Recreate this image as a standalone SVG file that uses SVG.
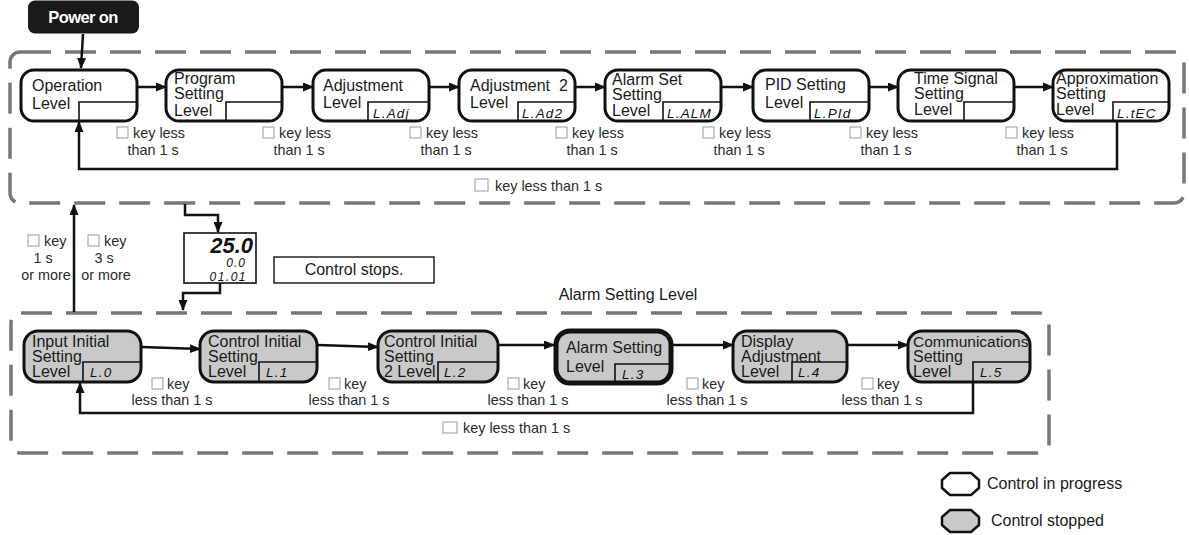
<svg xmlns="http://www.w3.org/2000/svg" width="1189" height="535" viewBox="0 0 1189 535">
<style>
text{font-family:"Liberation Sans",Arial,sans-serif;fill:#1a1a1a}
.n{font-size:16px}
.lb{font-size:14.4px;fill:#2a2a2a}
.lbm{font-size:14.4px;fill:#2a2a2a;text-anchor:middle}
.box{fill:#fff;stroke:#111;stroke-width:3}
.gbox{fill:#c9c9c9;stroke:#111;stroke-width:3}
.thick{stroke-width:5}
.dsp{fill:none;stroke:#111;stroke-width:1.6}
.seg{font-size:13.5px;font-style:italic;letter-spacing:1.2px;fill:#111}
.con{fill:none;stroke:#111;stroke-width:2.5}
.dash{fill:none;stroke:#777;stroke-width:3.5;stroke-dasharray:31 14}
.sq{fill:#fff;stroke:#999;stroke-width:1}
</style>
<defs>
<marker id="ah" markerUnits="userSpaceOnUse" markerWidth="11" markerHeight="9" refX="10" refY="4.5" orient="auto">
<path d="M0,0 L11,4.5 L0,9 Z" fill="#111"/>
</marker>
</defs>

<!-- containers -->
<g id="containers">
<rect class="dash" x="10" y="52" width="1174" height="151" rx="10"/>
<rect class="dash" x="11" y="313" width="1038" height="140" rx="10"/>
</g>

<!-- power on -->
<g id="power-on">
<rect x="28" y="0.5" width="111" height="33" rx="7" fill="#1a1a1a"/>
<text x="83" y="23" text-anchor="middle" style="font-size:16.5px;font-weight:bold;fill:#fff;letter-spacing:-0.6px">Power on</text>
</g>

<!-- top row nodes -->
<g id="node-operation">
<rect class="box" x="21" y="70" width="116" height="51" rx="13"/>
<path class="dsp" d="M79,121 V102 H137"/>
<text class="n" x="32" y="91">Operation</text>
<text class="n" x="32" y="109">Level</text>
</g>
<g id="node-program">
<rect class="box" x="166" y="70" width="116" height="51" rx="13"/>
<path class="dsp" d="M226,121 V102 H282"/>
<text class="n" x="174" y="84">Program</text>
<text class="n" x="174" y="99">Setting</text>
<text class="n" x="174" y="116">Level</text>
</g>
<g id="node-adjustment">
<rect class="box" x="313" y="70" width="116" height="51" rx="13"/>
<path class="dsp" d="M368,121 V102 H429"/>
<text class="n" x="323" y="91">Adjustment</text>
<text class="n" x="323" y="108">Level</text>
<text class="seg" x="373" y="118">L.Adj</text>
</g>
<g id="node-adjustment2">
<rect class="box" x="459" y="70" width="116" height="51" rx="13"/>
<path class="dsp" d="M518,121 V102 H575"/>
<text class="n" x="470" y="91" style="white-space:pre">Adjustment  2</text>
<text class="n" x="470" y="108">Level</text>
<text class="seg" x="522" y="118">L.Ad2</text>
</g>
<g id="node-alarmset">
<rect class="box" x="605" y="70" width="116" height="51" rx="13"/>
<path class="dsp" d="M663,121 V102 H721"/>
<text class="n" x="612" y="85">Alarm Set</text>
<text class="n" x="612" y="100">Setting</text>
<text class="n" x="612" y="116">Level</text>
<text class="seg" x="667" y="118">L.ALM</text>
</g>
<g id="node-pid">
<rect class="box" x="753" y="70" width="116" height="51" rx="13"/>
<path class="dsp" d="M810,121 V102 H869"/>
<text class="n" x="765" y="90">PID Setting</text>
<text class="n" x="765" y="108">Level</text>
<text class="seg" x="814" y="118">L.PId</text>
</g>
<g id="node-timesignal">
<rect class="box" x="898" y="70" width="116" height="51" rx="13"/>
<path class="dsp" d="M964,121 V102 H1014"/>
<text class="n" x="914" y="84">Time Signal</text>
<text class="n" x="914" y="99">Setting</text>
<text class="n" x="914" y="115">Level</text>
</g>
<g id="node-approximation">
<rect class="box" x="1053" y="70" width="116" height="51" rx="13"/>
<path class="dsp" d="M1113,121 V102 H1169"/>
<text class="n" x="1056" y="84">Approximation</text>
<text class="n" x="1056" y="99">Setting</text>
<text class="n" x="1056" y="115">Level</text>
<text class="seg" x="1117" y="118">L.tEC</text>
</g>

<!-- display -->
<g id="node-display">
<rect x="184" y="233" width="72" height="50" fill="#fff" stroke="#111" stroke-width="1.6"/>
<text x="253" y="253" text-anchor="end" style="font-size:22px;font-weight:bold;font-style:italic;fill:#111">25.0</text>
<text x="246" y="267" text-anchor="end" style="font-size:12px;font-style:italic;fill:#111;letter-spacing:1px">0.0</text>
<text x="247" y="281" text-anchor="end" style="font-size:12px;font-style:italic;fill:#111;letter-spacing:1.5px">01.01</text>
</g>
<g id="note-control-stops">
<rect x="274" y="257" width="160" height="26" fill="#fff" stroke="#111" stroke-width="1.4"/>
<text class="n" x="354" y="275" text-anchor="middle">Control stops.</text>
</g>
<text class="n" x="628" y="300" text-anchor="middle">Alarm Setting Level</text>

<!-- bottom row nodes -->
<g id="node-input-initial">
<rect class="gbox" x="24" y="331" width="117" height="51" rx="14"/>
<path class="dsp" d="M83,382 V362 H141"/>
<text class="n" x="32" y="347">Input Initial</text>
<text class="n" x="32" y="362">Setting</text>
<text class="n" x="32" y="377">Level</text>
<text class="seg" x="90" y="377">L.0</text>
</g>
<g id="node-control-initial">
<rect class="gbox" x="200" y="331" width="117" height="51" rx="14"/>
<path class="dsp" d="M259,382 V362 H317"/>
<text class="n" x="208" y="347">Control Initial</text>
<text class="n" x="208" y="362">Setting</text>
<text class="n" x="208" y="377">Level</text>
<text class="seg" x="266" y="377">L.1</text>
</g>
<g id="node-control-initial2">
<rect class="gbox" x="378" y="331" width="120" height="51" rx="14"/>
<path class="dsp" d="M438,382 V362 H498"/>
<text class="n" x="384" y="347">Control Initial</text>
<text class="n" x="384" y="362">Setting</text>
<text class="n" x="384" y="377">2 Level</text>
<text class="seg" x="444" y="377">L.2</text>
</g>
<g id="node-alarm-setting">
<rect class="gbox thick" x="556" y="331" width="115" height="52" rx="14"/>
<path class="dsp" d="M615,383 V364 H671"/>
<text class="n" x="566" y="353">Alarm Setting</text>
<text class="n" x="566" y="372">Level</text>
<text class="seg" x="622" y="379">L.3</text>
</g>
<g id="node-display-adjustment">
<rect class="gbox" x="733" y="331" width="114" height="51" rx="14"/>
<path class="dsp" d="M792,382 V362 H847"/>
<text class="n" x="741" y="347">Display</text>
<text class="n" x="741" y="362">Adjustment</text>
<text class="n" x="741" y="377">Level</text>
<text class="seg" x="798" y="377">L.4</text>
</g>
<g id="node-communications">
<rect class="gbox" x="908" y="331" width="122" height="51" rx="14"/>
<path class="dsp" d="M973,382 V362 H1030"/>
<text class="n" x="913" y="347" style="font-size:15.5px">Communications</text>
<text class="n" x="913" y="362">Setting</text>
<text class="n" x="913" y="377">Level</text>
<text class="seg" x="980" y="377">L.5</text>
</g>

<!-- connectors -->
<g id="connectors">
<line class="con" x1="83" y1="34" x2="81" y2="68" marker-end="url(#ah)"/>
<line class="con" x1="137" y1="87" x2="166" y2="87" marker-end="url(#ah)"/>
<line class="con" x1="282" y1="87" x2="313" y2="87" marker-end="url(#ah)"/>
<line class="con" x1="429" y1="87" x2="459" y2="87" marker-end="url(#ah)"/>
<line class="con" x1="575" y1="87" x2="605" y2="87" marker-end="url(#ah)"/>
<line class="con" x1="721" y1="87" x2="753" y2="87" marker-end="url(#ah)"/>
<line class="con" x1="869" y1="87" x2="898" y2="87" marker-end="url(#ah)"/>
<line class="con" x1="1014" y1="87" x2="1053" y2="87" marker-end="url(#ah)"/>
<path class="con" d="M1117,121 V169 H79 V122" marker-end="url(#ah)"/>
<line class="con" x1="74" y1="312" x2="74" y2="205" marker-end="url(#ah)"/>
<path class="con" d="M185,204 V215 H218 V232" marker-end="url(#ah)"/>
<path class="con" d="M220,283 V293 H183 V310" marker-end="url(#ah)"/>
<line class="con" x1="142" y1="347" x2="200" y2="349" marker-end="url(#ah)"/>
<line class="con" x1="318" y1="345" x2="378" y2="347" marker-end="url(#ah)"/>
<line class="con" x1="499" y1="345" x2="554" y2="345" marker-end="url(#ah)"/>
<line class="con" x1="673" y1="345" x2="733" y2="345" marker-end="url(#ah)"/>
<line class="con" x1="848" y1="345" x2="908" y2="345" marker-end="url(#ah)"/>
<path class="con" d="M973,382 V413 H80 V383" marker-end="url(#ah)"/>
</g>

<!-- connector labels -->
<g id="labels">
<rect class="sq" x="117" y="127" width="11" height="11"/><text class="lb" x="133" y="138">key less</text><text class="lbm" x="153" y="155">than 1 s</text>
<rect class="sq" x="263" y="127" width="11" height="11"/><text class="lb" x="279" y="138">key less</text><text class="lbm" x="299" y="155">than 1 s</text>
<rect class="sq" x="410" y="127" width="11" height="11"/><text class="lb" x="426" y="138">key less</text><text class="lbm" x="446" y="155">than 1 s</text>
<rect class="sq" x="556" y="127" width="11" height="11"/><text class="lb" x="572" y="138">key less</text><text class="lbm" x="592" y="155">than 1 s</text>
<rect class="sq" x="703" y="127" width="11" height="11"/><text class="lb" x="719" y="138">key less</text><text class="lbm" x="739" y="155">than 1 s</text>
<rect class="sq" x="850" y="127" width="11" height="11"/><text class="lb" x="866" y="138">key less</text><text class="lbm" x="886" y="155">than 1 s</text>
<rect class="sq" x="1006" y="127" width="11" height="11"/><text class="lb" x="1022" y="138">key less</text><text class="lbm" x="1042" y="155">than 1 s</text>
<rect class="sq" x="475" y="179" width="13" height="12"/><text class="lb" x="495" y="191">key less than 1 s</text>

<rect class="sq" x="28" y="235" width="11" height="11"/><text class="lb" x="44" y="246">key</text>
<text class="lbm" x="43" y="263">1 s</text>
<text class="lbm" x="46" y="280">or more</text>
<rect class="sq" x="88" y="235" width="11" height="11"/><text class="lb" x="104" y="246">key</text>
<text class="lbm" x="104" y="263">3 s</text>
<text class="lbm" x="106" y="280">or more</text>

<rect class="sq" x="152" y="378" width="11" height="11"/><text class="lb" x="167" y="389">key</text><text class="lbm" x="172" y="405">less than 1 s</text>
<rect class="sq" x="329" y="378" width="11" height="11"/><text class="lb" x="344" y="389">key</text><text class="lbm" x="349" y="405">less than 1 s</text>
<rect class="sq" x="508" y="378" width="11" height="11"/><text class="lb" x="523" y="389">key</text><text class="lbm" x="528" y="405">less than 1 s</text>
<rect class="sq" x="687" y="378" width="11" height="11"/><text class="lb" x="702" y="389">key</text><text class="lbm" x="707" y="405">less than 1 s</text>
<rect class="sq" x="862" y="378" width="11" height="11"/><text class="lb" x="877" y="389">key</text><text class="lbm" x="882" y="405">less than 1 s</text>
<rect class="sq" x="443" y="422" width="14" height="11"/><text class="lb" x="463" y="433">key less than 1 s</text>
</g>

<!-- legend -->
<g id="legend">
<path d="M950,473 H971 L979,480 V488 L971,495 H950 L942,488 V480 Z" fill="#fff" stroke="#111" stroke-width="2.5" stroke-linejoin="round"/>
<text class="n" x="987" y="489">Control in progress</text>
<path d="M950,510 H971 L979,517 V525 L971,532 H950 L942,525 V517 Z" fill="#c9c9c9" stroke="#111" stroke-width="2.5" stroke-linejoin="round"/>
<text class="n" x="991" y="526">Control stopped</text>
</g>
</svg>
